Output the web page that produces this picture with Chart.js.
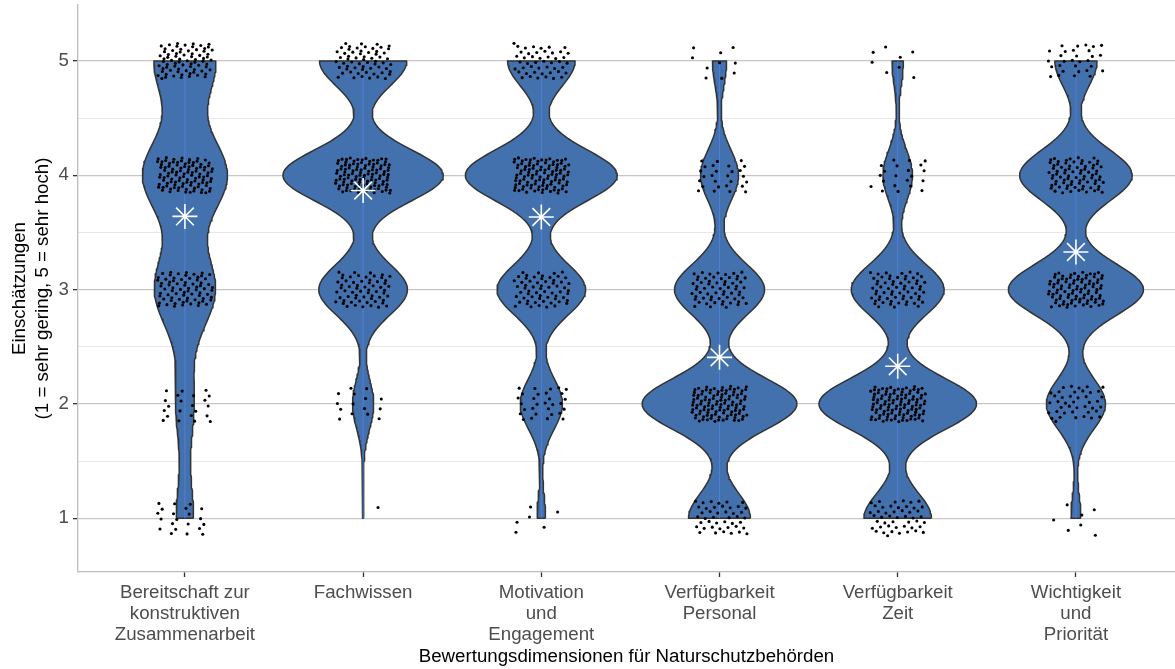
<!DOCTYPE html>
<html>
<head>
<meta charset="utf-8">
<script src="https://cdn.jsdelivr.net/npm/chart.js@4.4.1/dist/chart.umd.min.js"></script>
<style>
  html, body { margin: 0; padding: 0; background: #ffffff; }
  #wrap { width: 1175px; height: 669px; }
</style>
</head>
<body>
<div id="wrap"><canvas id="chart" width="1175" height="669"></canvas></div>
<script>
// Rating dimensions (x axis) and the answer scale (y axis)
const categories = [
  ['Bereitschaft zur', 'konstruktiven', 'Zusammenarbeit'],
  ['Fachwissen'],
  ['Motivation', 'und', 'Engagement'],
  ['Verfügbarkeit', 'Personal'],
  ['Verfügbarkeit', 'Zeit'],
  ['Wichtigkeit', 'und', 'Priorität']
];
const levels = [1, 2, 3, 4, 5];

// Number of answers per level (1 .. 5) for each dimension
const countsBereitschaft = [21, 22, 74, 103, 75];
const countsFachwissen   = [1, 15, 63, 114, 62];
const countsMotivation   = [6, 30, 63, 108, 48];
const countsPersonal     = [44, 110, 64, 27, 10];
const countsZeit         = [48, 112, 66, 21, 8];
const countsWichtigkeit  = [7, 42, 96, 80, 30];

const yTickValues = [1, 2, 3, 4, 5];
const xAxisTitle = 'Bewertungsdimensionen für Naturschutzbehörden';
const yAxisTitle = ['Einschätzungen', '(1 = sehr gering, 5 = sehr hoch)'];

const groupCounts = [countsBereitschaft, countsFachwissen, countsMotivation,
                     countsPersonal, countsZeit, countsWichtigkeit];

const FONT = "'Liberation Sans', Arial, Helvetica, sans-serif";
const VIOLIN_FILL = '#4271ae';
const VIOLIN_EDGE = '#333333';

// ---- statistics helpers (violin = gaussian kernel density, bw.nrd0) ----
function expand(counts) {
  const v = [];
  counts.forEach((c, i) => { for (let j = 0; j < c; j++) v.push(levels[i]); });
  return v;
}
function quantile7(sorted, p) {
  const h = (sorted.length - 1) * p;
  const lo = Math.floor(h);
  const hi = Math.min(lo + 1, sorted.length - 1);
  return sorted[lo] + (h - lo) * (sorted[hi] - sorted[lo]);
}
function bwNrd0(values) {
  const n = values.length;
  const mean = values.reduce((a, b) => a + b, 0) / n;
  const sd = Math.sqrt(values.reduce((a, b) => a + (b - mean) * (b - mean), 0) / (n - 1));
  const sorted = values.slice().sort((a, b) => a - b);
  const iqr = quantile7(sorted, 0.75) - quantile7(sorted, 0.25);
  const lo = Math.min(sd, iqr / 1.34);
  return 0.9 * lo * Math.pow(n, -0.2);
}
function density(counts, bw, y) {
  const n = counts.reduce((a, b) => a + b, 0);
  let s = 0;
  counts.forEach((c, i) => {
    const z = (y - levels[i]) / bw;
    s += c * Math.exp(-0.5 * z * z);
  });
  return s / (n * bw * Math.sqrt(2 * Math.PI));
}
function mean(counts) {
  const n = counts.reduce((a, b) => a + b, 0);
  return counts.reduce((a, c, i) => a + c * levels[i], 0) / n;
}

// ---- density profiles, trimmed to the observed range ----
const SAMPLES = 200;
const profiles = groupCounts.map(counts => {
  const bw = bwNrd0(expand(counts));
  const first = levels[counts.findIndex(c => c > 0)];
  const last = levels[counts.length - 1 - counts.slice().reverse().findIndex(c => c > 0)];
  const pts = [];
  for (let i = 0; i <= SAMPLES; i++) {
    const y = first + (last - first) * i / SAMPLES;
    pts.push({ y, d: density(counts, bw, y) });
  }
  return pts;
});
// scale = "area": all violins share one maximum width
const globalMax = Math.max(...profiles.map(p => Math.max(...p.map(q => q.d))));
const HALF_WIDTH = 0.45;

const violinSets = profiles.map((pts, g) => {
  const cx = g + 1;
  const right = pts.map(p => ({ x: cx + HALF_WIDTH * p.d / globalMax, y: p.y }));
  const left = pts.slice().reverse().map(p => ({ x: cx - HALF_WIDTH * p.d / globalMax, y: p.y }));
  const data = right.concat(left);
  data.push(right[0]);
  return {
    type: 'line',
    data,
    order: 3,
    fill: 'shape',
    backgroundColor: VIOLIN_FILL,
    borderColor: VIOLIN_EDGE,
    borderWidth: 1.5,
    borderJoinStyle: 'round',
    pointRadius: 0,
    tension: 0
  };
});

// thin centre line through each violin
const centreSets = groupCounts.map((counts, g) => ({
  type: 'line',
  data: [{ x: g + 1, y: levels[0] }, { x: g + 1, y: levels[levels.length - 1] }],
  order: 2,
  fill: false,
  borderColor: 'rgba(80,130,225,0.85)',
  borderWidth: 1,
  pointRadius: 0
}));

// jittered answers (deterministic low-discrepancy jitter)
const JIT_W = 0.155, JIT_H = 0.155;
const A1 = 0.7548776662466927, A2 = 0.5698402909980532;
const jitterData = [];
groupCounts.forEach((counts, g) => {
  let n = 1 + g * 977;
  counts.forEach((c, i) => {
    for (let j = 0; j < c; j++, n++) {
      const u = (0.5 + n * A1) % 1;
      const v = (0.5 + n * A2) % 1;
      jitterData.push({ x: g + 1 + (2 * u - 1) * JIT_W, y: levels[i] + (2 * v - 1) * JIT_H });
    }
  });
});
const pointSet = {
  type: 'scatter',
  data: jitterData,
  order: 1,
  pointRadius: 1.55,
  pointBackgroundColor: '#000000',
  pointBorderWidth: 0,
  showLine: false
};

// mean per dimension
const meanSet = {
  type: 'scatter',
  data: groupCounts.map((counts, g) => ({ x: g + 1, y: mean(counts) })),
  order: 0,
  pointStyle: 'star',
  pointRadius: 12.5,
  pointBorderColor: '#ffffff',
  pointBackgroundColor: '#ffffff',
  pointBorderWidth: 1.6,
  showLine: false
};

const isMajor = v => Math.abs(v - Math.round(v)) < 1e-6;

new Chart(document.getElementById('chart'), {
  type: 'scatter',
  data: { datasets: [meanSet, pointSet, ...centreSets, ...violinSets] },
  options: {
    responsive: false,
    animation: false,
    devicePixelRatio: 1,
    layout: { autoPadding: false, padding: { top: 5, right: 0, bottom: 0, left: 0 } },
    plugins: { legend: { display: false }, tooltip: { enabled: false } },
    scales: {
      x: {
        type: 'linear',
        min: 0.4,
        max: 6.556,
        afterBuildTicks: s => { s.ticks = categories.map((_, i) => ({ value: i + 1 })); },
        afterFit: s => { s.height = 97; s.paddingLeft = 0; s.paddingRight = 0; },
        ticks: {
          callback: v => categories[Math.round(v) - 1],
          color: '#4d4d4d',
          font: { family: FONT, size: 18.7, lineHeight: 1.1 },
          maxRotation: 0,
          minRotation: 0,
          autoSkip: false,
          padding: 6
        },
        grid: { drawOnChartArea: false, drawTicks: true, tickLength: 5, tickColor: '#333333', tickWidth: 1.3 },
        border: { display: true, color: '#bdbdbd', width: 1.3 },
        title: {
          display: true,
          text: xAxisTitle,
          color: '#000000',
          font: { family: FONT, size: 18.7, lineHeight: 1.2 },
          padding: { top: 0, bottom: 1 }
        }
      },
      y: {
        type: 'linear',
        min: 0.53,
        max: 5.49,
        afterBuildTicks: s => {
          const t = [];
          yTickValues.forEach((v, i) => {
            t.push({ value: v });
            if (i < yTickValues.length - 1) t.push({ value: (v + yTickValues[i + 1]) / 2 });
          });
          s.ticks = t;
        },
        afterFit: s => { s.width = 78; s.paddingTop = 0; s.paddingBottom = 0; },
        ticks: {
          callback: v => (isMajor(v) ? String(Math.round(v)) : ''),
          color: '#4d4d4d',
          font: { family: FONT, size: 18.7 },
          padding: 4
        },
        grid: {
          color: c => (isMajor(c.tick.value) ? '#c6c6c6' : '#e8e8e8'),
          lineWidth: c => (isMajor(c.tick.value) ? 1.3 : 1.1),
          tickColor: c => (isMajor(c.tick.value) ? '#333333' : 'rgba(0,0,0,0)'),
          tickLength: 5,
          tickWidth: 1.3,
          drawTicks: true
        },
        border: { display: true, color: '#bdbdbd', width: 1.3 },
        title: {
          display: true,
          text: yAxisTitle,
          color: '#000000',
          font: { family: FONT, size: 18.7, lineHeight: 1.2 },
          padding: { top: 9, bottom: 0 }
        }
      }
    }
  }
});
</script>
</body>
</html>
